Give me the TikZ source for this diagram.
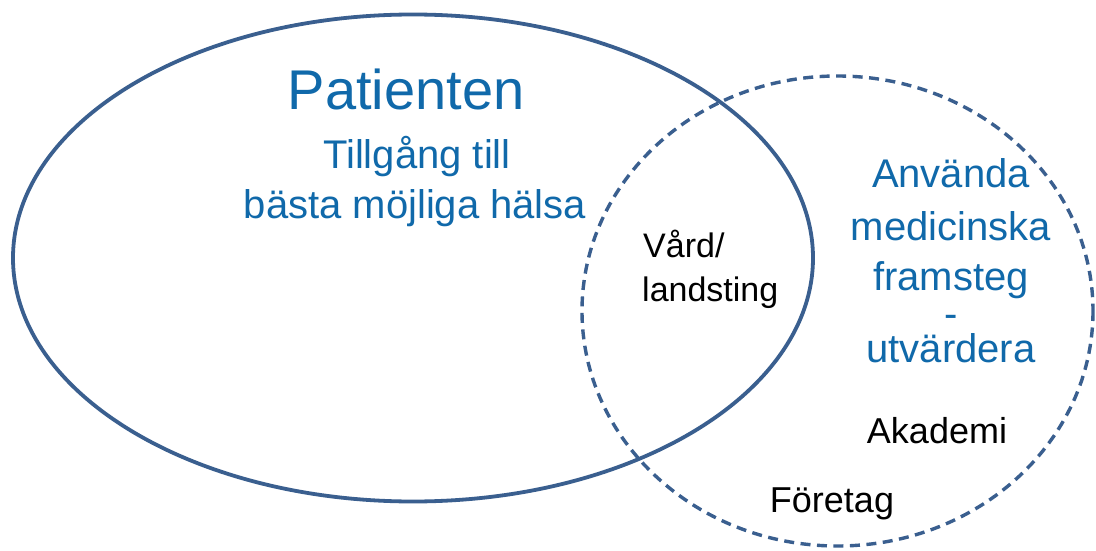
\documentclass[tikz,border=0pt]{standalone}
\usepackage{fontspec}
\setmainfont{Liberation Sans}
\definecolor{ringblue}{RGB}{58,95,143}
\definecolor{textblue}{RGB}{16,105,170}
\begin{document}
\begin{tikzpicture}[x=1pt,y=-1pt,
  ring/.style={draw=ringblue,line width=3.8pt},
  dashring/.style={draw=ringblue,line width=3.4pt,dash pattern=on 10pt off 6.5pt},
  bluetxt/.style={text=textblue,inner sep=0pt,anchor=base},
  blacktxt/.style={text=black,inner sep=0pt,anchor=base}]
\useasboundingbox (0,0) rectangle (1096,551);
\fill[white] (0,0) rectangle (1096,551);
% ellipses
\draw[ring] (413,258) ellipse [x radius=400, y radius=243.5];
\draw[dashring] (837.5,311) ellipse [x radius=255.5, y radius=235];
% left texts
\node[bluetxt,font=\fontsize{56}{60}\selectfont] (pat) at (406,110) {Patienten};
\node[bluetxt,font=\fontsize{40}{48}\selectfont] (till1) at (417,168) {Tillgång till};
\node[bluetxt,font=\fontsize{40}{48}\selectfont] (till2) at (415,218) {bästa möjliga hälsa};
% middle texts
\node[blacktxt,anchor=base west,font=\fontsize{34}{40}\selectfont] (vard1) at (643,257) {Vård/};
\node[blacktxt,anchor=base west,font=\fontsize{34}{40}\selectfont] (vard2) at (642,301) {landsting};
% right texts
\node[bluetxt,font=\fontsize{40}{48}\selectfont] (anv1) at (951,187) {Använda};
\node[bluetxt,font=\fontsize{40}{48}\selectfont] (anv2) at (951,240) {medicinska};
\node[bluetxt,font=\fontsize{40}{48}\selectfont] (anv3) at (951,290) {framsteg};
\node[bluetxt,font=\fontsize{40}{48}\selectfont] (anv4) at (951,327) {-};
\node[bluetxt,font=\fontsize{40}{48}\selectfont] (anv5) at (951,362) {utvärdera};
\node[blacktxt,font=\fontsize{36}{42}\selectfont] (aka) at (937,443) {Akademi};
\node[blacktxt,font=\fontsize{36}{42}\selectfont] (for) at (832,512) {Företag};
\end{tikzpicture}
\end{document}
